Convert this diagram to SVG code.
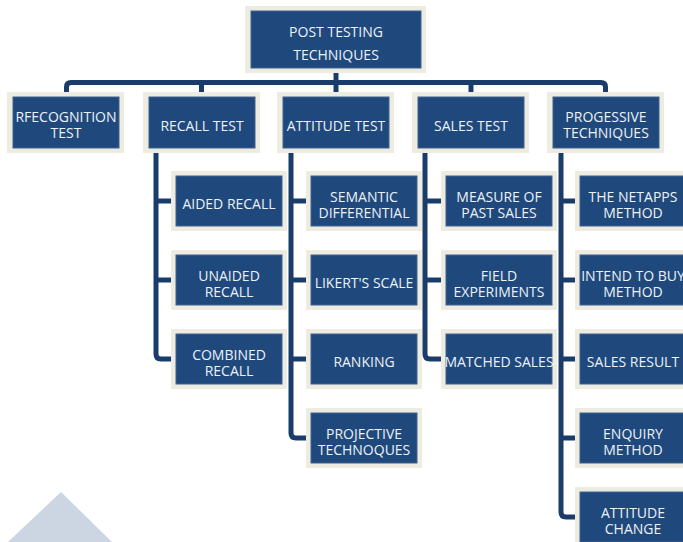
<svg xmlns="http://www.w3.org/2000/svg" width="683" height="542" viewBox="0 0 683 542">
<style>
.o{fill:#EEECE1}
.i{fill:#1F497D;stroke:#3F6391;stroke-width:1}
.t{font-family:"Open Sans","Liberation Sans",sans-serif;font-size:14px;fill:#EEF1F5;text-anchor:middle}
.c{fill:none;stroke:#1A3C6A;stroke-width:5;stroke-linejoin:round}
</style>
<rect width="683" height="542" fill="#FFFFFF"/>
<polygon points="61,492 8,542 112,542" fill="#CCD6E2"/>
<g id="connectors" class="c">
<path d="M66.5,92 V87 Q66.5,82.5 71,82.5 H601 Q605.5,82.5 605.5,87 V92"/>
<path d="M336,73 V92"/>
<path d="M201.5,82.5 V92"/>
<path d="M471,82.5 V92"/>
<path d="M156,153 V354 Q156,359 161,359 H171 M156,201 H171 M156,280 H171"/>
<path d="M291,153 V433 Q291,438 296,438 H306 M291,201 H306 M291,280 H306 M291,359 H306"/>
<path d="M425,153 V354 Q425,359 430,359 H441 M425,201 H441 M425,280 H441"/>
<path d="M561,153 V512 Q561,517 566,517 H575 M561,201 H575 M561,280 H575 M561,359 H575 M561,438 H575"/>
</g>
<g id="root"><rect class="o" x="245" y="6" width="181" height="67"/><rect class="i" x="251" y="11" width="170" height="57"/><text class="t" x="336" y="37">POST TESTING</text><text class="t" x="336" y="60">TECHNIQUES</text></g>
<g id="recognition"><rect class="o" x="7" y="92" width="117" height="61"/><rect class="i" x="13" y="97" width="106" height="51"/><text class="t" x="66" y="122">RFECOGNITION</text><text class="t" x="66" y="138">TEST</text></g>
<g id="recall"><rect class="o" x="143" y="92" width="117" height="61"/><rect class="i" x="149" y="97" width="106" height="51"/><text class="t" x="202" y="131">RECALL TEST</text></g>
<g id="attitude"><rect class="o" x="277" y="92" width="117" height="61"/><rect class="i" x="283" y="97" width="106" height="51"/><text class="t" x="336" y="131">ATTITUDE TEST</text></g>
<g id="sales"><rect class="o" x="412" y="92" width="117" height="61"/><rect class="i" x="418" y="97" width="106" height="51"/><text class="t" x="471" y="131">SALES TEST</text></g>
<g id="progressive"><rect class="o" x="547" y="92" width="117" height="61"/><rect class="i" x="553" y="97" width="106" height="51"/><text class="t" x="606" y="122">PROGESSIVE</text><text class="t" x="606" y="138">TECHNIQUES</text></g>
<g id="aided"><rect class="o" x="171" y="171" width="116" height="60"/><rect class="i" x="176" y="176" width="106" height="50"/><text class="t" x="229" y="209">AIDED RECALL</text></g>
<g id="unaided"><rect class="o" x="171" y="250" width="116" height="60"/><rect class="i" x="176" y="255" width="106" height="50"/><text class="t" x="229" y="281">UNAIDED</text><text class="t" x="229" y="297">RECALL</text></g>
<g id="combined"><rect class="o" x="171" y="329" width="116" height="60"/><rect class="i" x="176" y="334" width="106" height="50"/><text class="t" x="229" y="360">COMBINED</text><text class="t" x="229" y="376">RECALL</text></g>
<g id="semantic"><rect class="o" x="306" y="171" width="116" height="60"/><rect class="i" x="311" y="176" width="106" height="50"/><text class="t" x="364" y="202">SEMANTIC</text><text class="t" x="364" y="218">DIFFERENTIAL</text></g>
<g id="likert"><rect class="o" x="306" y="250" width="116" height="60"/><rect class="i" x="311" y="255" width="106" height="50"/><text class="t" x="364" y="288">LIKERT'S SCALE</text></g>
<g id="ranking"><rect class="o" x="306" y="329" width="116" height="60"/><rect class="i" x="311" y="334" width="106" height="50"/><text class="t" x="364" y="367">RANKING</text></g>
<g id="projective"><rect class="o" x="306" y="408" width="116" height="60"/><rect class="i" x="311" y="413" width="106" height="50"/><text class="t" x="364" y="439">PROJECTIVE</text><text class="t" x="364" y="455">TECHNOQUES</text></g>
<g id="measure"><rect class="o" x="441" y="171" width="116" height="60"/><rect class="i" x="446" y="176" width="106" height="50"/><text class="t" x="499" y="202">MEASURE OF</text><text class="t" x="499" y="218">PAST SALES</text></g>
<g id="field"><rect class="o" x="441" y="250" width="116" height="60"/><rect class="i" x="446" y="255" width="106" height="50"/><text class="t" x="499" y="281">FIELD</text><text class="t" x="499" y="297">EXPERIMENTS</text></g>
<g id="matched"><rect class="o" x="441" y="329" width="116" height="60"/><rect class="i" x="446" y="334" width="106" height="50"/><text class="t" x="499" y="367">MATCHED SALES</text></g>
<g id="netapps"><rect class="o" x="575" y="171" width="116" height="60"/><rect class="i" x="580" y="176" width="106" height="50"/><text class="t" x="633" y="202">THE NETAPPS</text><text class="t" x="633" y="218">METHOD</text></g>
<g id="intend"><rect class="o" x="575" y="250" width="116" height="60"/><rect class="i" x="580" y="255" width="106" height="50"/><text class="t" x="633" y="281">INTEND TO BUY</text><text class="t" x="633" y="297">METHOD</text></g>
<g id="salesresult"><rect class="o" x="575" y="329" width="116" height="60"/><rect class="i" x="580" y="334" width="106" height="50"/><text class="t" x="633" y="367">SALES RESULT</text></g>
<g id="enquiry"><rect class="o" x="575" y="408" width="116" height="60"/><rect class="i" x="580" y="413" width="106" height="50"/><text class="t" x="633" y="439">ENQUIRY</text><text class="t" x="633" y="455">METHOD</text></g>
<g id="attitudechange"><rect class="o" x="575" y="487" width="116" height="60"/><rect class="i" x="580" y="492" width="106" height="50"/><text class="t" x="633" y="518">ATTITUDE</text><text class="t" x="633" y="534">CHANGE</text></g>
</svg>
